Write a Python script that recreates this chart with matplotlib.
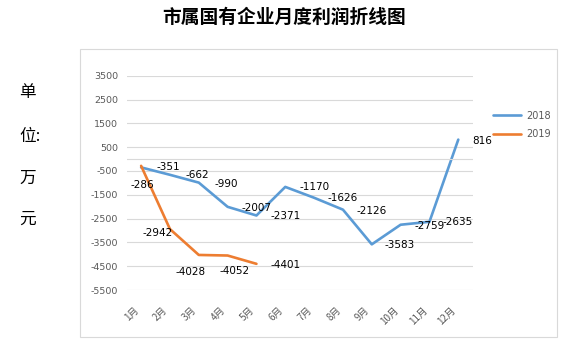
import matplotlib
matplotlib.use("Agg")
import matplotlib.pyplot as plt
import matplotlib.transforms as mtransforms
from matplotlib.patches import Rectangle

plt.rcParams['font.family'] = ['DejaVu Sans', 'Noto Sans CJK SC']

# 数据
months = ['1月', '2月', '3月', '4月', '5月', '6月', '7月', '8月', '9月', '10月', '11月', '12月']
profit_2018 = [-351, -662, -990, -2007, -2371, -1170, -1626, -2126, -3583, -2759, -2635, 816]
profit_2019 = [-286, -2942, -4028, -4052, -4401]
yticks = list(range(-5500, 3501, 1000))

# 数据标签偏移 (像素, 以点为中心)
off_2018 = [(27, 0), (27, 0), (27, 1), (29, 1), (29, 1), (29, 0), (29, 0), (29, 1), (28, 1), (29, 1), (28, 0), (24, 1)]
off_2019 = [(1, 19), (-12, 4), (-8, 17), (7, 15), (29, 1)]

W, H = 569, 351
fig = plt.figure(figsize=(W / 100, H / 100), dpi=100)

# 图表区边框
fig.patches.append(Rectangle((80 / W, 1 - 337 / H), 477 / W, 288 / H, transform=fig.transFigure,
                             fill=False, edgecolor='#D9D9D9', lw=0.8))

ax = fig.add_axes([126.7 / W, 1 - 290 / H, 346 / W, 214.3 / H])
blue, orange = '#5B9BD5', '#ED7D31'
x18 = list(range(len(profit_2018)))
x19 = list(range(len(profit_2019)))
ax.plot(x18, profit_2018, color=blue, lw=1.9, label='2018', solid_capstyle='round')
ax.plot(x19, profit_2019, color=orange, lw=1.9, label='2019', solid_capstyle='round')

px = 0.72  # 像素 -> 点
for xi, v, (dx, dy) in zip(x18, profit_2018, off_2018):
    ax.annotate(str(v), (xi, v), xytext=(dx * px, -dy * px), textcoords='offset points',
                ha='center', va='center', fontsize=7.5, color='black')
for xi, v, (dx, dy) in zip(x19, profit_2019, off_2019):
    ax.annotate(str(v), (xi, v), xytext=(dx * px, -dy * px), textcoords='offset points',
                ha='center', va='center', fontsize=7.5, color='black')

ax.set_xlim(-0.5, len(months) - 0.5)
ax.set_ylim(-5500, 3500)
ax.set_yticks(yticks)
ax.set_yticklabels([str(t) for t in yticks], fontsize=6.8, color='#595959')
ax.grid(axis='y', color='#D9D9D9', lw=0.8)
ax.axhline(0, color='#D9D9D9', lw=0.8)
ax.set_axisbelow(True)
for s in ax.spines.values():
    s.set_visible(False)
ax.tick_params(axis='y', length=0, pad=6)
ax.tick_params(axis='x', length=0, pad=13)

ax.set_xticks(x18)
ax.set_xticklabels(months, rotation=45, ha='right', va='center', rotation_mode='anchor',
                   fontsize=7, color='#595959', family=['Noto Sans CJK SC'])
shift = mtransforms.ScaledTranslation(-4 / 100, 0, fig.dpi_scale_trans)
for lab in ax.get_xticklabels():
    lab.set_transform(lab.get_transform() + shift)

fig.legend(loc='center left', bbox_to_anchor=(488 / W, 1 - 125 / H), frameon=False,
           fontsize=7, handlelength=2.9, handletextpad=0.5, labelspacing=0.85,
           borderpad=0, labelcolor='#595959')

fig.text(284 / W, 1 - 17 / H, '市属国有企业月度利润折线图', ha='center', va='center',
         fontsize=13.5, fontweight='bold', family=['Noto Sans CJK SC'])
for t, yy in zip(['单', '位:', '万', '元'], [93, 137, 178, 219]):
    fig.text(19 / W, 1 - yy / H, t, ha='left', va='center', fontsize=12,
             family=['Noto Sans CJK SC'])

fig.savefig('out.png', dpi=100)
